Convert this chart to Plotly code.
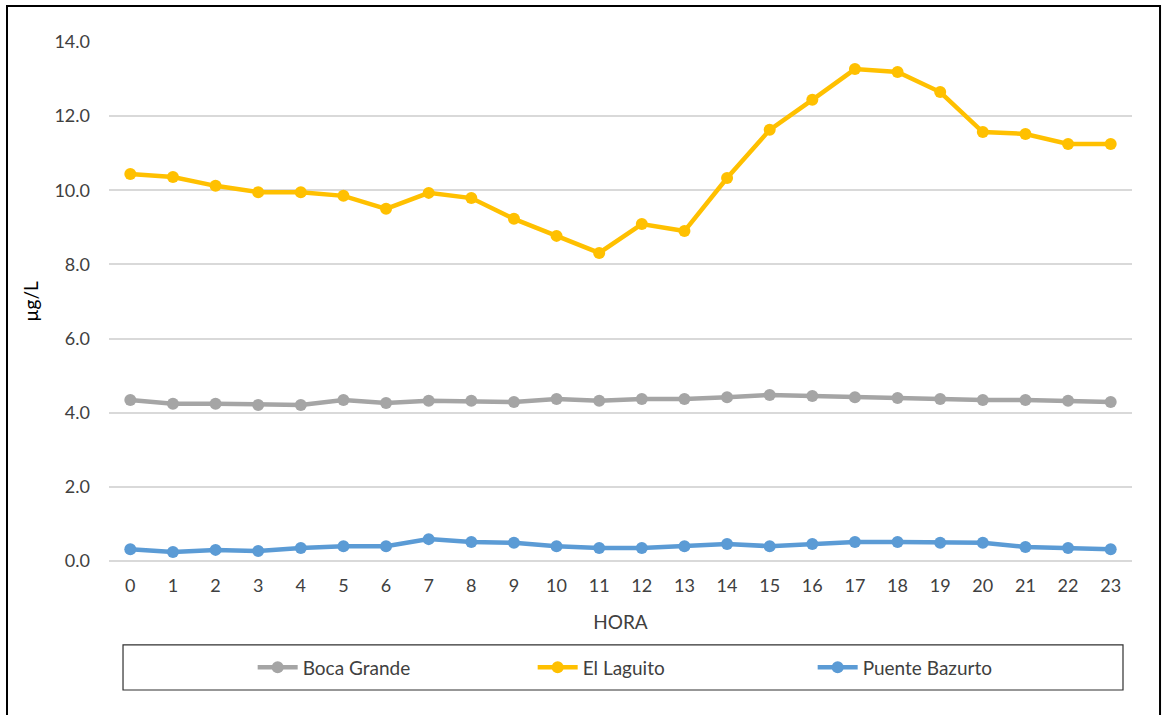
import plotly.graph_objects as go

hours = list(range(24))
hour_labels = [str(h) for h in hours]
boca_grande = [4.34, 4.24, 4.24, 4.21, 4.21, 4.34, 4.26, 4.32, 4.32, 4.29, 4.37, 4.32,
               4.37, 4.37, 4.42, 4.48, 4.45, 4.42, 4.40, 4.37, 4.34, 4.34, 4.32, 4.29]
el_laguito = [10.44, 10.36, 10.12, 9.95, 9.95, 9.85, 9.50, 9.93, 9.79, 9.23, 8.77, 8.31,
              9.09, 8.90, 10.33, 11.63, 12.44, 13.27, 13.19, 12.65, 11.57, 11.52, 11.25, 11.25]
puente_bazurto = [0.32, 0.24, 0.30, 0.27, 0.35, 0.40, 0.40, 0.59, 0.51, 0.49, 0.40, 0.35,
                  0.35, 0.40, 0.46, 0.40, 0.46, 0.51, 0.51, 0.49, 0.49, 0.38, 0.35, 0.32]
y_ticks = [0, 2, 4, 6, 8, 10, 12, 14]

series = [("Boca Grande", boca_grande, "#A5A5A5"),
          ("El Laguito", el_laguito, "#FFC000"),
          ("Puente Bazurto", puente_bazurto, "#5B9BD5")]

fig = go.Figure()
for name, vals, color in series:
    fig.add_trace(go.Scatter(
        x=hour_labels, y=vals, name=name, mode="lines+markers",
        line=dict(color=color, width=4.5),
        marker=dict(color=color, size=12),
    ))

font_family = "Lato, Liberation Sans, sans-serif"
txt = "#404040"

fig.update_layout(
    width=1164, height=715,
    margin=dict(l=109, r=32, t=42, b=154),
    plot_bgcolor="white", paper_bgcolor="white",
    font=dict(family=font_family, size=18, color=txt),
    showlegend=True,
    legend=dict(orientation="h", x=0.551, xanchor="center", y=-0.205, yanchor="middle",
                font=dict(size=19, color=txt), entrywidth=225, itemwidth=40,
                bgcolor="rgba(0,0,0,0)"),
    xaxis=dict(type="category", range=[-0.5, 23.5], showgrid=False,
               showline=False, zeroline=False, ticks="", ticklabelstandoff=12,
               tickfont=dict(size=18, color=txt),
               title=dict(text="HORA", font=dict(size=19, color=txt), standoff=20)),
    yaxis=dict(range=[0, 14], tickvals=y_ticks, tickformat=".1f",
               showgrid=True, gridcolor="#D9D9D9", gridwidth=1.5,
               zeroline=True, zerolinecolor="#D9D9D9", zerolinewidth=1.5,
               showline=False, ticks="", ticklabelstandoff=18,
               tickfont=dict(size=18, color=txt),
               title=dict(text="µg/L", font=dict(size=19, color="#000000"), standoff=10)),
    shapes=[
        dict(type="rect", xref="paper", yref="paper", x0=0.0137, x1=0.9912,
             y0=-0.2486, y1=-0.1618, line=dict(color="#303030", width=1.2)),
        dict(type="rect", xref="paper", yref="paper", x0=-0.0997, x1=1.0274,
             y0=-0.35, y1=1.0694, line=dict(color="#000000", width=2)),
    ],
)

fig.write_html("out.html", config={"displayModeBar": False},
               post_script="document.body.style.margin='0';document.body.style.padding='0';")
